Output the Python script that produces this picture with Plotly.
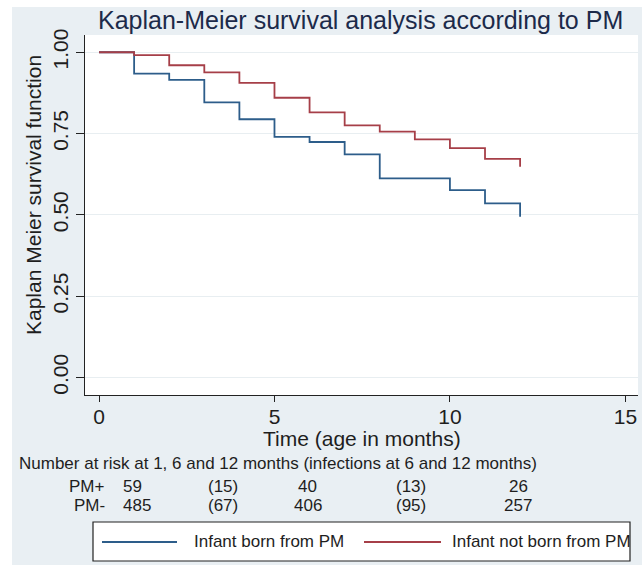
import plotly.graph_objects as go

# ---------------- data ----------------
months = [0, 1, 2, 3, 4, 5, 6, 7, 8, 9, 10, 11, 12]
surv_pm = [1.0, 0.934, 0.915, 0.846, 0.794, 0.740, 0.724, 0.686, 0.612, 0.612, 0.576, 0.535, 0.494]
surv_no_pm = [1.0, 0.991, 0.960, 0.938, 0.906, 0.860, 0.815, 0.775, 0.756, 0.732, 0.705, 0.672, 0.648]

series_names = ["Infant born from PM", "Infant not born from PM"]
risk_groups = ["PM+", "PM-"]
risk_pm_plus = ["59", "(15)", "40", "(13)", "26"]
risk_pm_minus = ["485", "(67)", "406", "(95)", "257"]

x_ticks = [0, 5, 10, 15]
y_ticks = [0, 0.25, 0.5, 0.75, 1.0]
y_tick_text = ["0.00", "0.25", "0.50", "0.75", "1.00"]

# ---------------- layout helpers ----------------
W, H = 642, 565
ML, MR, MT, MB = 85, 4, 35, 170
PW, PH = W - ML - MR, H - MT - MB


def px_x(px):
    return (px - ML) / PW


def px_y(py):
    return (H - MB - py) / PH


FONT = "Liberation Sans, Arial, sans-serif"
BLUE = "#2d5d8a"
RED = "#a63f48"
BG = "#e9eff3"
TXT = "#1e1e1e"

fig = go.Figure()
fig.add_trace(go.Scatter(x=months, y=surv_pm, mode="lines", line_shape="hv",
                         line=dict(color=BLUE, width=1.8), name=series_names[0],
                         showlegend=False))
fig.add_trace(go.Scatter(x=months, y=surv_no_pm, mode="lines", line_shape="hv",
                         line=dict(color=RED, width=1.8), name=series_names[1],
                         showlegend=False))

fig.update_layout(
    width=W, height=H,
    margin=dict(l=ML, r=MR, t=MT, b=MB, autoexpand=False),
    paper_bgcolor=BG, plot_bgcolor="white",
    font=dict(family=FONT, color=TXT),
    showlegend=False,
)
fig.update_xaxes(range=[-0.4, 15.36], tickvals=x_ticks, ticks="outside", ticklen=6,
                 tickcolor="#222", showline=True, linecolor="#222", linewidth=1,
                 showgrid=False, zeroline=False, automargin=False, ticklabelstandoff=-3,
                 tickfont=dict(size=21, color=TXT))
fig.update_yaxes(range=[-0.054, 1.053], tickvals=y_ticks, ticktext=y_tick_text,
                 tickangle=-90, ticks="outside", ticklen=8, tickcolor="#222",
                 showline=True, linecolor="#222", linewidth=1, automargin=False,
                 showgrid=True, gridcolor="#e8eef1", gridwidth=1, zeroline=False,
                 tickfont=dict(size=21, color=TXT))

ann = []
# title
ann.append(dict(text="Kaplan-Meier survival analysis according to PM", xref="paper", yref="paper",
                x=px_x(360.5), y=px_y(20), xanchor="center", yanchor="middle", showarrow=False,
                font=dict(size=25, color="#1c2a4a")))
# axis titles
ann.append(dict(text="Kaplan Meier survival function", xref="paper", yref="paper",
                x=px_x(33), y=px_y(195), xanchor="center", yanchor="middle", textangle=-90,
                showarrow=False, font=dict(size=21, color=TXT)))
ann.append(dict(text="Time (age in months)", xref="paper", yref="paper",
                x=px_x(361.5), y=px_y(438), xanchor="center", yanchor="middle",
                showarrow=False, font=dict(size=21, color=TXT)))
# number at risk
ann.append(dict(text="Number at risk at 1, 6 and 12 months (infections at 6 and 12 months)",
                xref="paper", yref="paper", x=px_x(17), y=px_y(463), xanchor="left",
                yanchor="middle", showarrow=False, font=dict(size=17, color=TXT)))
row_y = [486, 505]
col_x = [0.63, 3.53, 5.95, 8.89, 11.94]  # column positions in months
for gi, (grp, vals) in enumerate(zip(risk_groups, [risk_pm_plus, risk_pm_minus])):
    ann.append(dict(text=grp, xref="paper", yref="paper", x=px_x(107), y=px_y(row_y[gi]),
                    xanchor="right", yanchor="middle", showarrow=False,
                    font=dict(size=17, color=TXT)))
    for ci, v in enumerate(vals):
        ann.append(dict(text=v, xref="x", yref="paper", x=col_x[ci], y=px_y(row_y[gi]),
                        xanchor="left" if ci == 0 else "center", yanchor="middle",
                        showarrow=False, font=dict(size=17, color=TXT)))
# legend texts
ann.append(dict(text=series_names[0], xref="paper", yref="paper", x=px_x(192), y=px_y(541.5),
                xanchor="left", yanchor="middle", showarrow=False, font=dict(size=17, color=TXT)))
ann.append(dict(text=series_names[1], xref="paper", yref="paper", x=px_x(450), y=px_y(541.5),
                xanchor="left", yanchor="middle", showarrow=False, font=dict(size=17, color=TXT)))

shapes = [
    # white outer margins
    dict(type="rect", xref="paper", yref="paper", x0=px_x(0), x1=px_x(12), y0=px_y(H), y1=px_y(0),
         fillcolor="white", line=dict(width=0), layer="below"),
    dict(type="rect", xref="paper", yref="paper", x0=px_x(0), x1=px_x(W), y0=px_y(7), y1=px_y(0),
         fillcolor="white", line=dict(width=0), layer="below"),
    # legend box
    dict(type="rect", xref="paper", yref="paper", x0=px_x(93), x1=px_x(630), y0=px_y(561), y1=px_y(522),
         fillcolor="white", line=dict(color="#222", width=1.2)),
    dict(type="line", xref="paper", yref="paper", x0=px_x(102), x1=px_x(177), y0=px_y(542), y1=px_y(542),
         line=dict(color=BLUE, width=1.8)),
    dict(type="line", xref="paper", yref="paper", x0=px_x(364), x1=px_x(441), y0=px_y(542), y1=px_y(542),
         line=dict(color=RED, width=1.8)),
]
fig.update_layout(annotations=ann, shapes=shapes)
fig.write_html("out.html", config={"displayModeBar": False},
               post_script="document.body.style.margin='0';document.body.style.overflow='hidden';")
